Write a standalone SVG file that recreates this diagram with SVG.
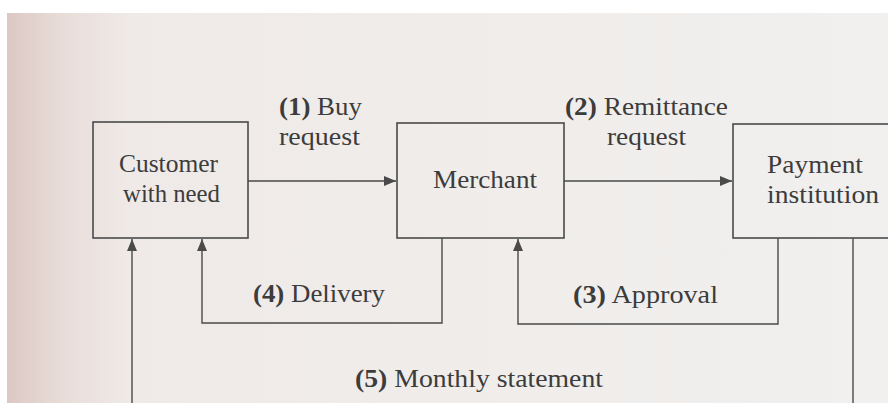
<svg xmlns="http://www.w3.org/2000/svg" width="888" height="403" viewBox="0 0 888 403">
<defs>
<linearGradient id="page" x1="0" y1="0" x2="1" y2="0">
<stop offset="0" stop-color="#dcc8c3"/>
<stop offset="0.06" stop-color="#e8dcd8"/>
<stop offset="0.14" stop-color="#efeae8"/>
<stop offset="1" stop-color="#f1f0ee"/>
</linearGradient>
<marker id="ah" viewBox="0 0 12 10" refX="12" refY="5" markerWidth="12" markerHeight="10" markerUnits="userSpaceOnUse" orient="auto">
<path d="M0,0 L12,5 L0,10 Z" fill="#4a4a4a"/>
</marker>
<style>
.box{fill:none;stroke:#4a4a4a;stroke-width:1.6}
.ln{fill:none;stroke:#4a4a4a;stroke-width:1.4}
.t{font-family:"Liberation Serif","Times New Roman",serif;font-size:26px;fill:#3c3c3c}
.n{font-weight:bold}
</style>
</defs>
<rect x="0" y="0" width="888" height="403" fill="#ffffff"/>
<rect x="7" y="13" width="881" height="390" fill="url(#page)"/>

<g id="customer">
<rect class="box" x="93" y="122" width="155" height="116"/>
<text class="t" x="119" y="172" textLength="99" lengthAdjust="spacingAndGlyphs">Customer</text>
<text class="t" x="123" y="202" textLength="97" lengthAdjust="spacingAndGlyphs">with need</text>
</g>
<g id="merchant">
<rect class="box" x="397" y="123" width="167" height="115"/>
<text class="t" x="433" y="188" textLength="104" lengthAdjust="spacingAndGlyphs">Merchant</text>
</g>
<g id="payment">
<rect class="box" x="733" y="124" width="160" height="114"/>
<text class="t" x="767" y="173" textLength="96" lengthAdjust="spacingAndGlyphs">Payment</text>
<text class="t" x="767" y="203" textLength="112" lengthAdjust="spacingAndGlyphs">institution</text>
</g>

<g id="connectors">
<line class="ln" x1="248" y1="181" x2="396" y2="181" marker-end="url(#ah)"/>
<line class="ln" x1="564" y1="181" x2="732" y2="181" marker-end="url(#ah)"/>
<polyline class="ln" points="778,238 778,324 518,324 518,239" marker-end="url(#ah)"/>
<polyline class="ln" points="442,238 442,323 202,323 202,239" marker-end="url(#ah)"/>
<polyline class="ln" points="853,238 853,403"/>
<line class="ln" x1="132" y1="403" x2="132" y2="239" marker-end="url(#ah)"/>
</g>

<g id="labels">
<text class="t" x="279" y="115" textLength="83" lengthAdjust="spacingAndGlyphs"><tspan class="n">(1)</tspan> Buy</text>
<text class="t" x="279" y="145" textLength="81" lengthAdjust="spacingAndGlyphs">request</text>
<text class="t" x="565" y="115" textLength="163" lengthAdjust="spacingAndGlyphs"><tspan class="n">(2)</tspan> Remittance</text>
<text class="t" x="607" y="145" textLength="79" lengthAdjust="spacingAndGlyphs">request</text>
<text class="t" x="253" y="302" textLength="132" lengthAdjust="spacingAndGlyphs"><tspan class="n">(4)</tspan> Delivery</text>
<text class="t" x="573" y="303" textLength="145" lengthAdjust="spacingAndGlyphs"><tspan class="n">(3)</tspan> Approval</text>
<text class="t" x="355" y="387" textLength="248" lengthAdjust="spacingAndGlyphs"><tspan class="n">(5)</tspan> Monthly statement</text>
</g>
</svg>
